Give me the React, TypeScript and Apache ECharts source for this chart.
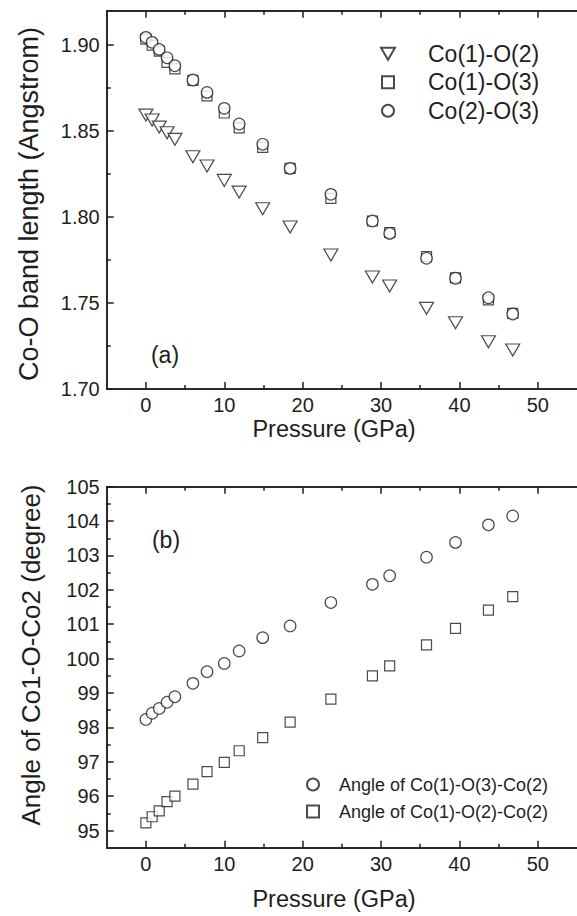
import React, { useEffect, useRef } from 'react';
import * as echarts from 'echarts';

// Pressure (GPa) for every measured point
const pressure = [0, 0.8, 1.7, 2.7, 3.7, 6.0, 7.8, 10.0, 11.9, 14.9, 18.4, 23.6, 28.9, 31.1, 35.8, 39.5, 43.7, 46.8];

// Panel (a): Co-O bond lengths (Angstrom)
const co1O2 = [1.8593, 1.8564, 1.8523, 1.849, 1.8452, 1.8351, 1.8297, 1.8213, 1.8145, 1.8048, 1.7942, 1.7779, 1.7651, 1.7599, 1.7469, 1.7385, 1.7275, 1.7227];
const co1O3 = [1.9035, 1.9, 1.8965, 1.89, 1.8862, 1.8795, 1.8705, 1.8605, 1.8518, 1.8405, 1.8283, 1.8108, 1.7977, 1.791, 1.777, 1.7646, 1.7518, 1.744];
const co2O3 = [1.9045, 1.9016, 1.8975, 1.8926, 1.888, 1.8797, 1.8725, 1.8632, 1.8541, 1.8423, 1.8283, 1.8132, 1.7977, 1.7905, 1.776, 1.7644, 1.7531, 1.7436];

// Panel (b): angles (degree)
const angleO3 = [98.23, 98.41, 98.55, 98.73, 98.89, 99.28, 99.62, 99.86, 100.22, 100.61, 100.95, 101.63, 102.16, 102.41, 102.95, 103.38, 103.89, 104.15];
const angleO2 = [95.22, 95.4, 95.57, 95.84, 96.0, 96.35, 96.71, 96.98, 97.32, 97.7, 98.15, 98.82, 99.5, 99.79, 100.4, 100.88, 101.41, 101.8];

// Tick values
const xMajor = [0, 10, 20, 30, 40, 50];
const xMinor = [5, 15, 25, 35, 45];
const yTopMajor = [1.7, 1.75, 1.8, 1.85, 1.9];
const yTopMinor = [1.725, 1.775, 1.825, 1.875];
const yBotMajor = [95, 96, 97, 98, 99, 100, 101, 102, 103, 104, 105];
const yBotMinor = [95.5, 96.5, 97.5, 98.5, 99.5, 100.5, 101.5, 102.5, 103.5, 104.5];

const FONT = '"Liberation Sans", Arial, Helvetica, sans-serif';
const INK = '#1e1e1e';

const zip = (xs: number[], ys: number[]) => xs.map((x, i) => [x, ys[i]]);

function xAxisDef(gridIndex: number, position: string, ticks: number[], len: number, labels: boolean) {
  return {
    type: 'value',
    gridIndex,
    position,
    min: -5,
    max: 55,
    axisLine: { show: true, onZero: false, lineStyle: { color: INK, width: 1.5 } },
    axisTick: { show: true, inside: true, length: len, customValues: ticks, lineStyle: { color: INK, width: 1.5 } },
    axisLabel: {
      show: labels,
      customValues: ticks,
      margin: 6,
      color: INK,
      fontSize: 20,
      fontFamily: FONT,
    },
    splitLine: { show: false },
  };
}

function yAxisDef(gridIndex: number, min: number, max: number, ticks: number[], len: number, labels: boolean, digits: number) {
  return {
    type: 'value',
    gridIndex,
    position: 'left',
    min,
    max,
    axisLine: { show: true, onZero: false, lineStyle: { color: INK, width: 1.5 } },
    axisTick: { show: true, inside: true, length: len, customValues: ticks, lineStyle: { color: INK, width: 1.5 } },
    axisLabel: {
      show: labels,
      customValues: ticks,
      margin: 7,
      color: INK,
      fontSize: 20,
      fontFamily: FONT,
      formatter: (v: number) => v.toFixed(digits),
    },
    splitLine: { show: false },
  };
}

const markerStyle = { color: '#ffffff', borderColor: INK, borderWidth: 1.2 };
const TRI = 'path://M0,0L14,0L7,12Z';
const SQR = 'path://M0,0L10,0L10,10L0,10Z';

export default function App() {
  const ref = useRef<HTMLDivElement>(null);

  useEffect(() => {
    if (!ref.current) return;
    const chart = echarts.init(ref.current, undefined, { renderer: 'svg' });
    const option = {
      animation: false,
      backgroundColor: '#ffffff',
      textStyle: { fontFamily: FONT, color: INK },
      grid: [
        { left: 106.7, top: 10.7, width: 476, height: 378.3 },
        { left: 106.7, top: 486.7, width: 476, height: 361 },
      ],
      xAxis: [
        xAxisDef(0, 'bottom', xMajor, 7, true),
        xAxisDef(0, 'bottom', xMinor, 4, false),
        xAxisDef(0, 'top', xMajor, 7, false),
        xAxisDef(0, 'top', xMinor, 4, false),
        xAxisDef(1, 'bottom', xMajor, 7, true),
        xAxisDef(1, 'bottom', xMinor, 4, false),
        xAxisDef(1, 'top', xMajor, 7, false),
        xAxisDef(1, 'top', xMinor, 4, false),
      ],
      yAxis: [
        yAxisDef(0, 1.7, 1.92, yTopMajor, 7, true, 2),
        yAxisDef(0, 1.7, 1.92, yTopMinor, 4, false, 2),
        yAxisDef(1, 94.5, 105, yBotMajor, 7, true, 0),
        yAxisDef(1, 94.5, 105, yBotMinor, 4, false, 0),
      ],
      legend: [
        {
          orient: 'vertical',
          left: 380,
          top: 39.5,
          padding: 0,
          itemGap: 0,
          itemWidth: 14,
          itemHeight: 12,
          symbolRotate: 0,
          textStyle: { fontSize: 23, fontFamily: FONT, color: INK, lineHeight: 28.5, padding: [0, 0, 0, 28] },
          data: [
            { name: 'Co(1)-O(2)', icon: TRI },
            { name: 'Co(1)-O(3)', icon: SQR },
            { name: 'Co(2)-O(3)', icon: 'circle' },
          ],
        },
        {
          orient: 'vertical',
          left: 306,
          top: 771,
          padding: 0,
          itemGap: 0,
          itemWidth: 12,
          itemHeight: 12,
          symbolRotate: 0,
          textStyle: { fontSize: 18, fontFamily: FONT, color: INK, lineHeight: 27, padding: [0, 0, 0, 15] },
          data: [
            { name: 'Angle of Co(1)-O(3)-Co(2)', icon: 'circle' },
            { name: 'Angle of Co(1)-O(2)-Co(2)', icon: SQR },
          ],
        },
      ],
      series: [
        {
          name: 'Co(1)-O(2)', type: 'scatter', xAxisIndex: 0, yAxisIndex: 0,
          symbol: TRI, symbolSize: [14, 12], itemStyle: markerStyle, data: zip(pressure, co1O2),
        },
        {
          name: 'Co(1)-O(3)', type: 'scatter', xAxisIndex: 0, yAxisIndex: 0,
          symbol: SQR, symbolSize: 10, itemStyle: markerStyle, data: zip(pressure, co1O3),
        },
        {
          name: 'Co(2)-O(3)', type: 'scatter', xAxisIndex: 0, yAxisIndex: 0,
          symbol: 'circle', symbolSize: 11.5, itemStyle: markerStyle, data: zip(pressure, co2O3),
        },
        {
          name: 'Angle of Co(1)-O(3)-Co(2)', type: 'scatter', xAxisIndex: 4, yAxisIndex: 2,
          symbol: 'circle', symbolSize: 11.5, itemStyle: markerStyle, data: zip(pressure, angleO3),
        },
        {
          name: 'Angle of Co(1)-O(2)-Co(2)', type: 'scatter', xAxisIndex: 4, yAxisIndex: 2,
          symbol: SQR, symbolSize: 10, itemStyle: markerStyle, data: zip(pressure, angleO2),
        },
      ],
      graphic: [
        {
          type: 'text', x: 334, y: 429,
          style: { text: 'Pressure (GPa)', font: `23.5px ${FONT}`, fill: INK, align: 'center', verticalAlign: 'middle' },
        },
        {
          type: 'text', x: 334, y: 899,
          style: { text: 'Pressure (GPa)', font: `23.5px ${FONT}`, fill: INK, align: 'center', verticalAlign: 'middle' },
        },
        {
          type: 'text', x: 29, y: 204, rotation: Math.PI / 2,
          style: { text: 'Co-O band length (Angstrom)', font: `27px ${FONT}`, fill: INK, align: 'center', verticalAlign: 'middle' },
        },
        {
          type: 'text', x: 31, y: 655, rotation: Math.PI / 2,
          style: { text: 'Angle of Co1-O-Co2 (degree)', font: `26px ${FONT}`, fill: INK, align: 'center', verticalAlign: 'middle' },
        },
        {
          type: 'text', x: 165, y: 355,
          style: { text: '(a)', font: `23px ${FONT}`, fill: INK, align: 'center', verticalAlign: 'middle' },
        },
        {
          type: 'text', x: 166, y: 540,
          style: { text: '(b)', font: `23px ${FONT}`, fill: INK, align: 'center', verticalAlign: 'middle' },
        },
      ],
    };
    chart.setOption(option as any);
    return () => chart.dispose();
  }, []);

  return (
    <div
      ref={ref}
      style={{ position: 'fixed', left: 0, top: 0, width: 577, height: 916, background: '#fff' }}
    />
  );
}
